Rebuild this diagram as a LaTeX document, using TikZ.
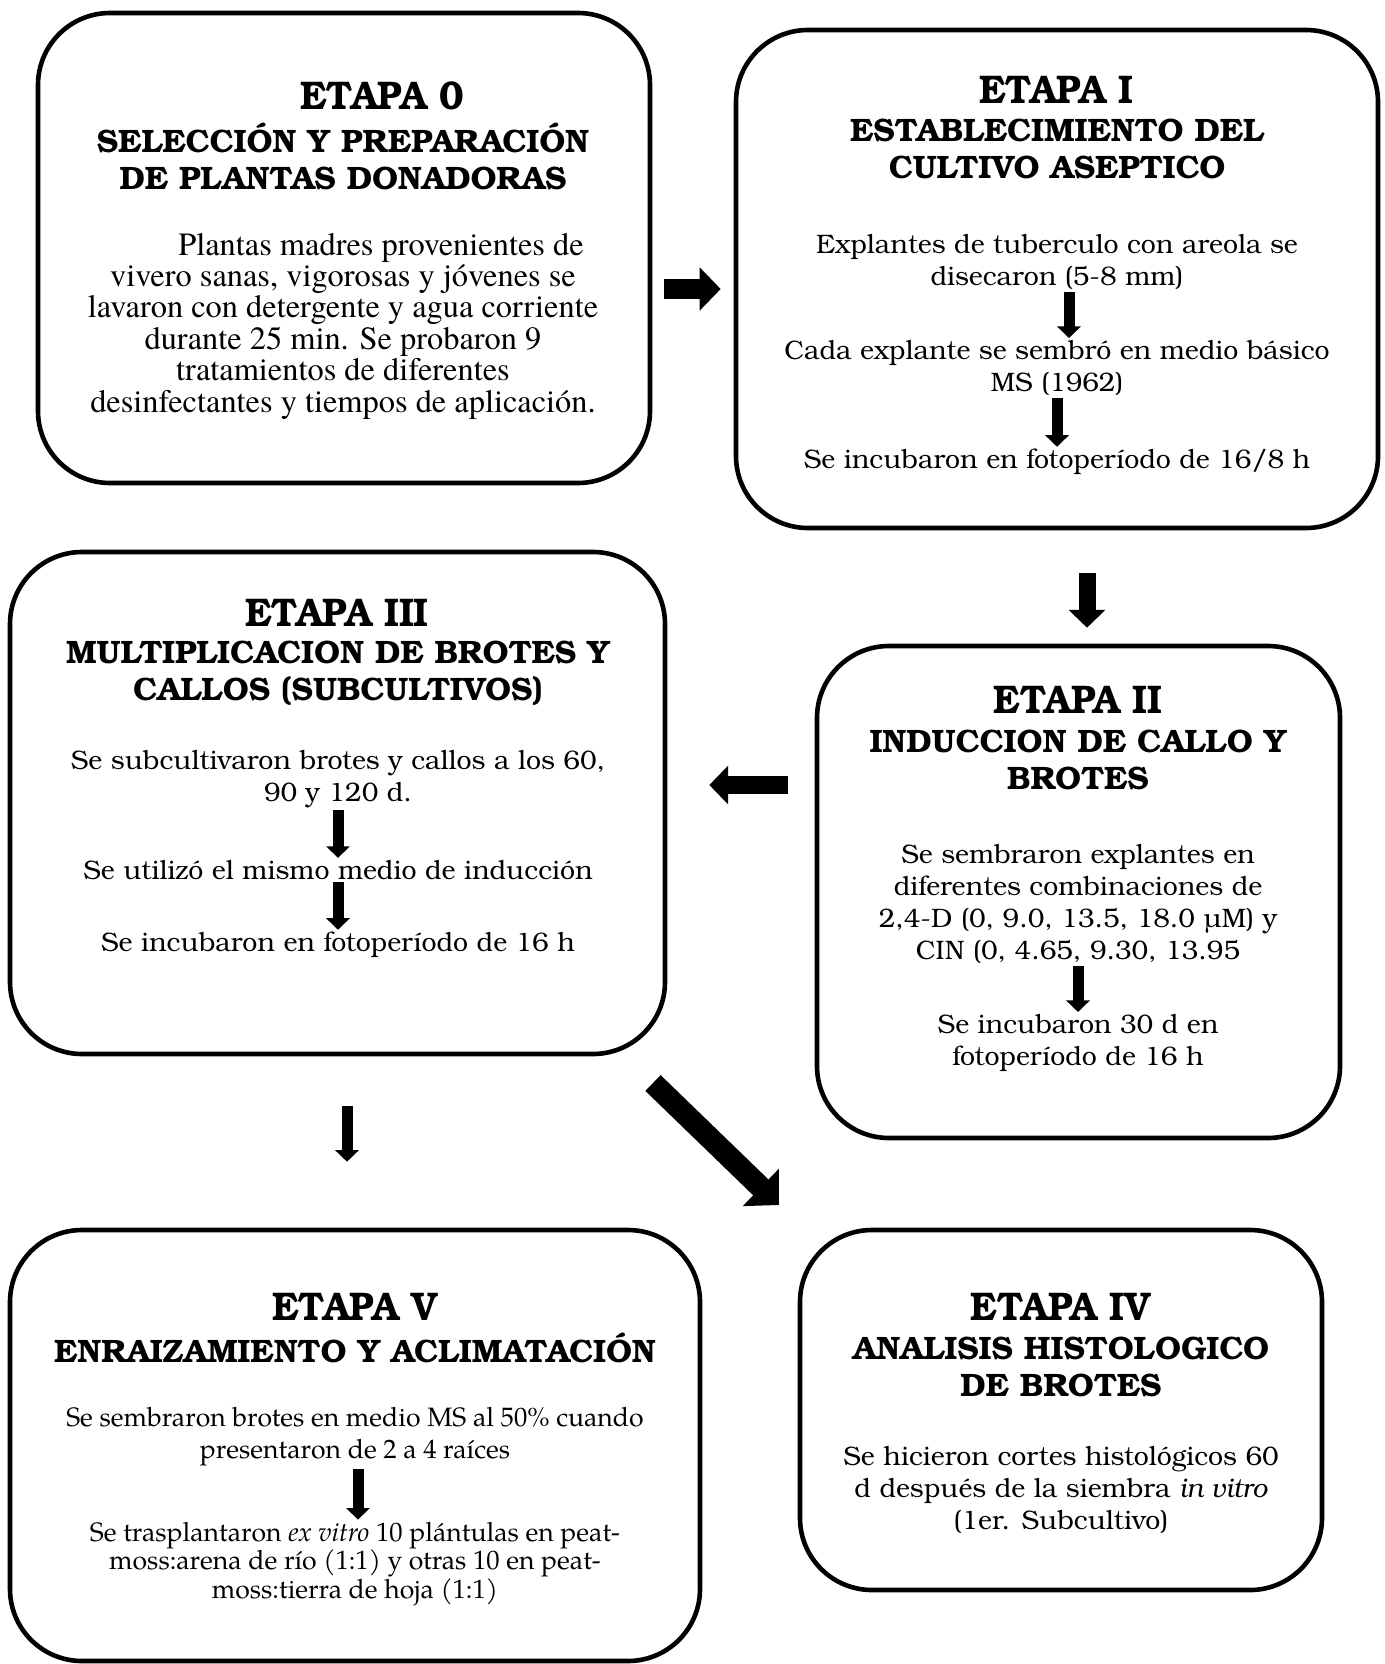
\documentclass[tikz,border=0pt]{standalone}
\usepackage{fontspec}
\setmainfont{texgyrebonum}[Extension=.otf, UprightFont=*-regular, BoldFont=*-bold, ItalicFont=*-italic, BoldItalicFont=*-bolditalic]
\newfontfamily\etapafont{texgyrebonum}[Extension=.otf, UprightFont=*-bold, FakeStretch=0.92]
\newfontfamily\termesfont{texgyretermes}[Extension=.otf, UprightFont=*-regular, BoldFont=*-bold, ItalicFont=*-italic, BoldItalicFont=*-bolditalic]
\newfontfamily\pagellafont{texgyrepagella}[Extension=.otf, UprightFont=*-regular, BoldFont=*-bold, ItalicFont=*-italic, BoldItalicFont=*-bolditalic]
\usetikzlibrary{arrows.meta,fit}

\tikzset{
  stage/.style={draw, line width=2.3pt, rounded corners=36pt, inner sep=0pt},
  etapa/.style={font=\etapafont\fontsize{20}{24}\selectfont},
  subt/.style={font=\bfseries\fontsize{16.2}{18.5}\selectfont, align=center},
  body/.style={font=\fontsize{13.35}{16}\selectfont, align=center, inner sep=1pt},
  bigarrow/.style={line width=#1, -{Triangle[width=0pt 2.1, length=0pt 1.05]}}
}

\begin{document}
\begin{tikzpicture}[x=0.5pt, y=-0.5pt]
    \useasboundingbox (0, 0) rectangle (1385, 1664);

    \node [stage, fit={(38, 13) (650, 483)}] (b0) {};
    \node [stage, fit={(736, 30) (1378, 528)}] (b1) {};
    \node [stage, fit={(817, 646) (1340, 1138)}] (b2) {};
    \node [stage, fit={(10, 552) (665, 1054)}] (b3) {};
    \node [stage, fit={(800, 1230) (1322, 1590)}] (b4) {};
    \node [stage, fit={(10, 1230) (700, 1661)}] (b5) {};

    \node [etapa] (e0) at (382, 96) {ETAPA 0};
    \node [subt] (s0) at (343, 156) {SELECCIÓN Y PREPARACIÓN\\DE PLANTAS DONADORAS};
    \node [body, font=\termesfont\fontsize{16.2}{15.7}\selectfont] (t0) at (343, 326)
      {\hspace*{38pt}Plantas madres provenientes de\\vivero sanas, vigorosas y jóvenes se\\lavaron con detergente y agua corriente\\durante 25 min. Se probaron 9\\tratamientos de diferentes\\desinfectantes y tiempos de aplicación.};

    \node [etapa] (e1) at (1056, 90) {ETAPA I};
    \node [subt] (s1) at (1057, 149) {ESTABLECIMIENTO DEL\\CULTIVO ASEPTICO};
    \node [body] (t1a) at (1057, 262) {Explantes de tuberculo con areola se\\disecaron (5-8 mm)};
    \node [body] (t1b) at (1057, 368) {Cada explante se sembró en medio básico\\MS (1962)};
    \node [body] (t1c) at (1057, 462) {Se incubaron en fotoperíodo de 16/8 h};
    \draw [bigarrow=5.5pt] ([xshift=6pt]t1a.south) -- ([xshift=6pt]t1b.north);
    \draw [bigarrow=5.5pt] (t1b.south) -- (t1c.north);

    \node [etapa] (e2) at (1078, 700) {ETAPA II};
    \node [subt] (s2) at (1078, 760) {INDUCCION DE CALLO Y\\BROTES};
    \node [body] (t2a) at (1078, 904) {Se sembraron explantes en\\diferentes combinaciones de\\2,4-D (0, 9.0, 13.5, 18.0 µM) y\\CIN (0, 4.65, 9.30, 13.95};
    \node [body] (t2b) at (1078, 1043) {Se incubaron 30 d en\\fotoperíodo de 16 h};
    \draw [bigarrow=5.5pt] (t2a.south) -- (t2b.north);

    \node [etapa] (e3) at (337, 613) {ETAPA III};
    \node [subt] (s3) at (338, 673) {MULTIPLICACION DE BROTES Y\\CALLOS (SUBCULTIVOS)};
    \node [body] (t3a) at (338, 779) {Se subcultivaron brotes y callos a los 60,\\90 y 120 d.};
    \node [body] (t3b) at (338, 870) {Se utilizó el mismo medio de inducción};
    \node [body] (t3c) at (338, 945) {Se incubaron en fotoperíodo de 16 h};
    \draw [bigarrow=5.5pt] (t3a.south) -- (t3b.north);
    \draw [bigarrow=5.5pt] (t3b.south) -- (t3c.north);

    \node [etapa] (e4) at (1061, 1307) {ETAPA IV};
    \node [subt] (s4) at (1061, 1367) {ANALISIS HISTOLOGICO\\DE BROTES};
    \node [body] (t4) at (1061, 1490) {Se hicieron cortes histológicos 60\\d después de la siembra \textit{in vitro}\\(1er. Subcultivo)};

    \node [etapa] (e5) at (355, 1307) {ETAPA V};
    \node [subt] (s5) at (355, 1348) {ENRAIZAMIENTO Y ACLIMATACIÓN};
    \node [body, font=\pagellafont\fontsize{13.3}{16}\selectfont] (t5a) at (355, 1437) {Se sembraron brotes en medio MS al 50\% cuando\\presentaron de 2 a 4 raíces};
    \node [body, font=\pagellafont\fontsize{13.3}{14.3}\selectfont] (t5b) at (355, 1564) {Se trasplantaron \textit{ex vitro} 10 plántulas en peat-\\moss:arena de río (1:1) y otras 10 en peat-\\moss:tierra de hoja (1:1)};
    \draw [bigarrow=5.5pt] ([xshift=1.5pt]t5a.south) -- ([xshift=1.5pt]t5b.north);

    \coordinate (y01) at (0, 289);
    \coordinate (x12) at (1087, 0);
    \coordinate (y23) at (0, 785);
    \coordinate (x35) at (347, 0);
    \coordinate (d1) at (653, 1083);
    \coordinate (d2) at (779, 1205);
    \draw [bigarrow=10pt, shorten <=6pt, shorten >=6.5pt] (b0.east |- y01) -- (b1.west |- y01);
    \draw [bigarrow=8.5pt, shorten <=21.5pt, shorten >=8pt] (b1.south -| x12) -- (b2.north -| x12);
    \draw [bigarrow=9pt, shorten <=13.5pt, shorten >=21pt] (b2.west |- y23) -- (b3.east |- y23);
    \draw [bigarrow=5.5pt, shorten <=25pt, shorten >=33pt] (b3.south -| x35) -- (b5.north -| x35);
    \draw [line width=11pt, -{Triangle[width=0pt 2.3, length=0pt 1.15]}] (d1) -- (d2);
\end{tikzpicture}
\end{document}
